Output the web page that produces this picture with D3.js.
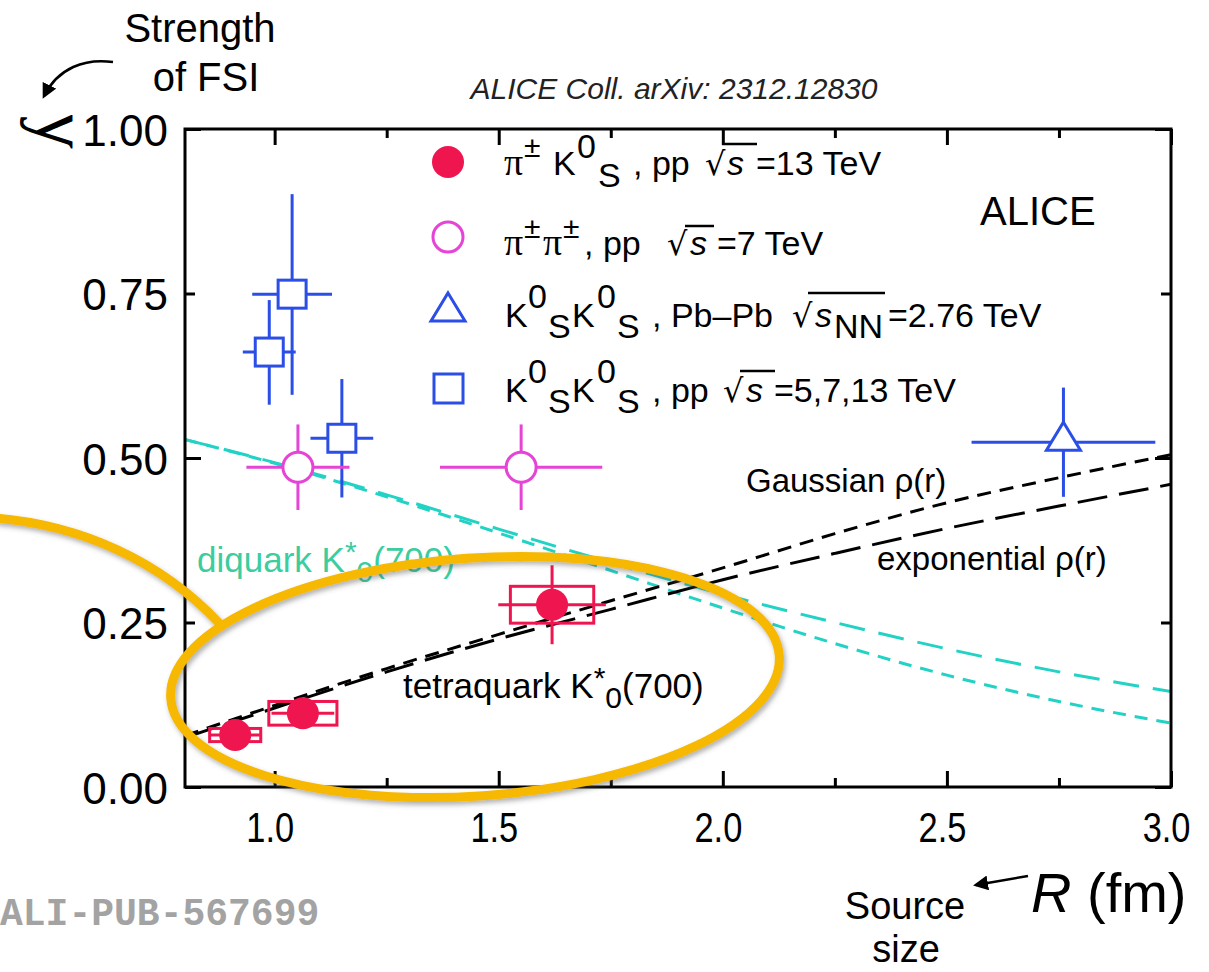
<!DOCTYPE html>
<html><head><meta charset="utf-8">
<script src="https://cdn.jsdelivr.net/npm/d3@7"></script>
<style>
body{margin:0;background:#fff}
svg{display:block;font-family:"Liberation Sans",Arial,Helvetica,sans-serif}
</style>
</head><body>
<svg id="c" width="1209" height="972"></svg>
<script>
// ---------------- data ----------------
const R_grid        = [0.8, 1.0, 1.25, 1.5, 1.75, 2.0, 2.25, 2.5, 2.75, 3.0];
const tetraGauss    = [0.078, 0.124, 0.180, 0.232, 0.283, 0.333, 0.385, 0.432, 0.470, 0.505];
const tetraExpo     = [0.075, 0.120, 0.175, 0.225, 0.270, 0.315, 0.355, 0.393, 0.427, 0.460];
const diquarkLong   = [0.528, 0.493, 0.444, 0.392, 0.341, 0.293, 0.250, 0.210, 0.175, 0.145];
const diquarkShort  = [0.528, 0.492, 0.441, 0.386, 0.329, 0.272, 0.218, 0.170, 0.130, 0.097];

const piK_R      = [0.912, 1.063, 1.619];
const piK_lambda = [0.079, 0.112, 0.277];
const piK_statR  = [0.055, 0.070, 0.120];
const piK_statL  = [0.010, 0.015, 0.060];
const piK_sysR   = [0.057, 0.076, 0.093];
const piK_sysL   = [0.010, 0.018, 0.028];

const pipi_R      = [1.052, 1.550];
const pipi_lambda = [0.486, 0.486];
const pipi_errR   = [0.115, 0.181];
const pipi_errL   = [0.065, 0.065];

const KKpp_R      = [0.988, 1.039, 1.150];
const KKpp_lambda = [0.661, 0.749, 0.530];
const KKpp_errR   = [0.059, 0.089, 0.070];
const KKpp_errLup = [0.079, 0.152, 0.090];
const KKpp_errLdn = [0.080, 0.153, 0.090];

const KKPb_R      = [2.76];
const KKPb_lambda = [0.524];
const KKPb_errR   = [0.205];
const KKPb_errL   = [0.083];

const xMajor = [1.0, 1.5, 2.0, 2.5, 3.0];
const xMinor = [1.25, 1.75, 2.25, 2.75];
const yMajor = [0, 0.5, 1.0];
const yMinor = [0.25, 0.75];
const yLabels = [0, 0.25, 0.5, 0.75, 1.0];

// ---------------- colours ----------------
const RED = "#ef1650", MAG = "#e544d6", BLUE = "#2a4ee6", TEAL = "#22d3c5", TEALTXT = "#3ccd9e", YEL = "#f6b800";

const svg = d3.select("#c");
const x = d3.scaleLinear().domain([0.8, 3.0]).range([185, 1171]);
const y = d3.scaleLinear().domain([0, 1]).range([787, 129]);
const X0 = x.range()[0], X1 = x.range()[1], Y0 = y.range()[0], Y1 = y.range()[1];

const defs = svg.append("defs");
defs.append("clipPath").attr("id","clip").append("rect")
  .attr("x",X0).attr("y",Y1).attr("width",X1-X0).attr("height",Y0-Y1);
const sh = defs.append("filter").attr("id","shadow").attr("x","-20%").attr("y","-20%").attr("width","140%").attr("height","140%");
sh.append("feDropShadow").attr("dx",2).attr("dy",3).attr("stdDeviation",2.5).attr("flood-color","#555").attr("flood-opacity",0.45);
defs.append("marker").attr("id","ah").attr("viewBox","0 0 10 10").attr("refX",8).attr("refY",5)
  .attr("markerWidth",6).attr("markerHeight",6).attr("orient","auto-start-reverse")
  .append("path").attr("d","M0,0 L10,5 L0,10 z").attr("fill","#000");

// ---------------- curves ----------------
const line = d3.line().x(d=>x(d[0])).y(d=>y(d[1])).curve(d3.curveMonotoneX);
const curves = [
  {v: diquarkLong,  c: TEAL, dash: "26,14"},
  {v: diquarkShort, c: TEAL, dash: "13,9"},
  {v: tetraExpo,    c: "#000", dash: "30,12"},
  {v: tetraGauss,   c: "#000", dash: "14,9"}
];
const cg = svg.append("g").attr("clip-path","url(#clip)");
curves.forEach(cv=>{
  cg.append("path").datum(R_grid.map((r,i)=>[r, cv.v[i]]))
    .attr("d", line).attr("fill","none").attr("stroke", cv.c)
    .attr("stroke-width",3).attr("stroke-dasharray", cv.dash);
});

// ---------------- data points ----------------
const dg = svg.append("g");
function hbar(r, l, e, col){ dg.append("line").attr("x1",x(r-e)).attr("x2",x(r+e)).attr("y1",y(l)).attr("y2",y(l)).attr("stroke",col).attr("stroke-width",3); }
function vbar(r, l, up, dn, col){ dg.append("line").attr("x1",x(r)).attr("x2",x(r)).attr("y1",y(l+up)).attr("y2",y(l-dn)).attr("stroke",col).attr("stroke-width",3); }

KKpp_R.forEach((r,i)=>{
  hbar(r, KKpp_lambda[i], KKpp_errR[i], BLUE);
  vbar(r, KKpp_lambda[i], KKpp_errLup[i], KKpp_errLdn[i], BLUE);
});
KKpp_R.forEach((r,i)=>{
  dg.append("rect").attr("x",x(r)-14).attr("y",y(KKpp_lambda[i])-14).attr("width",28).attr("height",28)
    .attr("fill","#fff").attr("stroke",BLUE).attr("stroke-width",3);
});
pipi_R.forEach((r,i)=>{
  hbar(r, pipi_lambda[i], pipi_errR[i], MAG);
  vbar(r, pipi_lambda[i], pipi_errL[i], pipi_errL[i], MAG);
  dg.append("circle").attr("cx",x(r)).attr("cy",y(pipi_lambda[i])).attr("r",15)
    .attr("fill","#fff").attr("stroke",MAG).attr("stroke-width",3);
});
const triPath = (cx,cy)=>`M${cx},${cy-17} L${cx+17},${cy+11} L${cx-17},${cy+11} Z`;
KKPb_R.forEach((r,i)=>{
  hbar(r, KKPb_lambda[i], KKPb_errR[i], BLUE);
  vbar(r, KKPb_lambda[i], KKPb_errL[i], KKPb_errL[i], BLUE);
  dg.append("path").attr("d", triPath(x(r), y(KKPb_lambda[i])-3)).attr("fill","#fff").attr("stroke",BLUE).attr("stroke-width",3);
});
piK_R.forEach((r,i)=>{
  dg.append("rect").attr("x",x(r-piK_sysR[i])).attr("y",y(piK_lambda[i]+piK_sysL[i]))
    .attr("width",x(r+piK_sysR[i])-x(r-piK_sysR[i])).attr("height",y(piK_lambda[i]-piK_sysL[i])-y(piK_lambda[i]+piK_sysL[i]))
    .attr("fill","none").attr("stroke",RED).attr("stroke-width",3);
  hbar(r, piK_lambda[i], piK_statR[i], RED);
  vbar(r, piK_lambda[i], piK_statL[i], piK_statL[i], RED);
  dg.append("circle").attr("cx",x(r)).attr("cy",y(piK_lambda[i])).attr("r",16).attr("fill",RED);
});

// ---------------- axes ----------------
function ticks(gen, tv, len, tr){
  const g = svg.append("g").attr("transform",tr).call(gen.tickValues(tv).tickSize(-len).tickFormat(""));
  g.select(".domain").remove();
  g.selectAll("line").attr("stroke","#000").attr("stroke-width",3);
}
ticks(d3.axisBottom(x), xMajor, 16, `translate(0,${Y0})`);
ticks(d3.axisBottom(x), xMinor, 9,  `translate(0,${Y0})`);
ticks(d3.axisTop(x),    xMajor, 16, `translate(0,${Y1})`);
ticks(d3.axisTop(x),    xMinor, 9,  `translate(0,${Y1})`);
ticks(d3.axisLeft(y),   yMajor, 16, `translate(${X0},0)`);
ticks(d3.axisLeft(y),   yMinor, 10, `translate(${X0},0)`);
ticks(d3.axisRight(y),  yMajor, 16, `translate(${X1},0)`);
ticks(d3.axisRight(y),  yMinor, 10, `translate(${X1},0)`);

const SANS = "Liberation Sans, Arial, sans-serif";
const xl = svg.append("g").attr("transform",`translate(0,${Y0})`)
  .call(d3.axisBottom(x).tickValues(xMajor).tickSize(0).tickFormat(d3.format(".1f")));
xl.select(".domain").remove();
xl.selectAll("text").attr("y",55).attr("dy",0).attr("x",-6)
  .attr("font-size",42).attr("fill","#000").attr("font-family",SANS)
  .attr("transform","scale(0.82,1)");

const yl = svg.append("g").attr("transform",`translate(${X0},0)`)
  .call(d3.axisLeft(y).tickValues(yLabels).tickSize(0).tickPadding(17).tickFormat(d3.format(".2f")));
yl.select(".domain").remove();
yl.selectAll("text").attr("dy","0.37em").attr("font-size",44).attr("fill","#000").attr("font-family",SANS);

svg.append("rect").attr("x",X0).attr("y",Y1).attr("width",X1-X0).attr("height",Y0-Y1)
  .attr("fill","none").attr("stroke","#000").attr("stroke-width",3);

// ---------------- legend ----------------
const lg = svg.append("g");
lg.append("circle").attr("cx",448).attr("cy",162).attr("r",16).attr("fill",RED);
lg.append("circle").attr("cx",448).attr("cy",237).attr("r",15).attr("fill","#fff").attr("stroke",MAG).attr("stroke-width",3);
lg.append("path").attr("d",triPath(448,310)).attr("fill","#fff").attr("stroke",BLUE).attr("stroke-width",3);
lg.append("rect").attr("x",434).attr("y",374).attr("width",29).attr("height",29).attr("fill","#fff").attr("stroke",BLUE).attr("stroke-width",3);

function T(xx, yy, s, opt={}){
  const t = lg.append("text").attr("x",xx).attr("y",yy).text(s).attr("font-size",opt.fs||34).attr("fill","#000");
  if(opt.ff) t.attr("font-family",opt.ff);
  if(opt.it) t.attr("font-style","italic");
  return t;
}
function OL(x1,x2,yy){ lg.append("line").attr("x1",x1).attr("x2",x2).attr("y1",yy).attr("y2",yy).attr("stroke","#000").attr("stroke-width",2.5); }
const SER = "Liberation Serif, Times New Roman, serif";
const RAD = "DejaVu Sans, sans-serif";
// row 1
T(504,175,"π",{ff:SER,fs:38}); T(524,157,"±",{fs:30}); T(553,175,"K"); T(577,158,"0"); T(598,187,"S");
T(633,175,", pp"); T(705,175,"√",{ff:RAD,fs:32}); T(727,175,"s",{it:true}); OL(722,757,144); T(756,175,"=13 TeV");
// row 2
T(504,255,"π",{ff:SER,fs:38}); T(524,238,"±",{fs:30}); T(543,255,"π",{ff:SER,fs:38}); T(563,238,"±",{fs:30});
T(584,255,", pp"); T(667,255,"√",{ff:RAD,fs:32}); T(690,255,"s",{it:true}); OL(685,714,226); T(717,255,"=7 TeV");
// row 3
T(505,327,"K"); T(528,308,"0"); T(548,338,"S"); T(572,327,"K"); T(597,308,"0"); T(617,338,"S");
T(652,327,", Pb–Pb"); T(792,327,"√",{ff:RAD,fs:32}); T(815,327,"s",{it:true}); T(834,338,"NN"); OL(808,885,293); T(888,327,"=2.76 TeV");
// row 4
T(505,402,"K"); T(528,383,"0"); T(548,413,"S"); T(572,402,"K"); T(597,383,"0"); T(617,413,"S");
T(652,402,", pp"); T(723,402,"√",{ff:RAD,fs:32}); T(746,402,"s",{it:true}); OL(740,775,371); T(774,402,"=5,7,13 TeV");

// ---------------- annotations ----------------
const an = svg.append("g");
an.append("text").attr("x",674).attr("y",99).attr("text-anchor","middle").attr("font-size",30)
  .attr("font-style","italic").attr("fill","#222").text("ALICE Coll. arXiv: 2312.12830");
an.append("text").attr("x",980).attr("y",225).attr("font-size",40).attr("fill","#000").text("ALICE");
an.append("text").attr("x",746).attr("y",492).attr("font-size",33).text("Gaussian ρ(r)");
an.append("text").attr("x",877).attr("y",570).attr("font-size",33).text("exponential ρ(r)");

const dq = an.append("text").attr("x",197).attr("y",572).attr("font-size",35).attr("fill",TEALTXT);
dq.append("tspan").text("diquark K");
dq.append("tspan").attr("dy",-10).attr("font-size",30).text("*");
dq.append("tspan").attr("dy",20).attr("font-size",30).text("0");
dq.append("tspan").attr("dy",-10).text("(700)");

const tq = an.append("text").attr("x",403).attr("y",698).attr("font-size",35).attr("fill","#000");
tq.append("tspan").text("tetraquark K");
tq.append("tspan").attr("dy",-10).attr("font-size",30).text("*");
tq.append("tspan").attr("dy",20).attr("font-size",30).text("0");
tq.append("tspan").attr("dy",-10).text("(700)");

// y label lambda + strength
an.append("text").attr("transform","matrix(0,1,1,0,72,131)").attr("text-anchor","middle")
  .attr("font-size",74).attr("font-family",SER).text("λ");
an.append("text").attr("x",200).attr("y",42).attr("text-anchor","middle").attr("font-size",40).text("Strength");
an.append("text").attr("x",206).attr("y",91).attr("text-anchor","middle").attr("font-size",40).text("of FSI");
an.append("path").attr("d","M113,62 C85,58 58,68 44,96").attr("fill","none").attr("stroke","#000").attr("stroke-width",2.5).attr("marker-end","url(#ah)");

// x label
const rt = an.append("text").attr("x",1031).attr("y",912).attr("font-size",56);
rt.append("tspan").attr("font-style","italic").text("R");
rt.append("tspan").text(" (fm)");
an.append("path").attr("d","M1028,876 L976,885").attr("fill","none").attr("stroke","#000").attr("stroke-width",2.5).attr("marker-end","url(#ah)");
an.append("text").attr("x",905).attr("y",919).attr("text-anchor","middle").attr("font-size",38).text("Source");
an.append("text").attr("x",906).attr("y",962).attr("text-anchor","middle").attr("font-size",38).text("size");

an.append("text").attr("x",0).attr("y",925).attr("font-size",38).attr("font-weight","bold")
  .attr("font-family","Liberation Mono, Courier New, monospace").attr("fill","#a3a3a3").text("ALI-PUB-567699");

// ---------------- highlight ellipse ----------------
const hl = svg.append("g").attr("filter","url(#shadow)");
hl.append("ellipse").attr("cx",475).attr("cy",677).attr("rx",305).attr("ry",119)
  .attr("transform","rotate(-4,475,677)").attr("fill","none").attr("stroke",YEL).attr("stroke-width",9);
hl.append("path").attr("d","M-5,518 C80,525 160,560 220,624").attr("fill","none").attr("stroke",YEL).attr("stroke-width",9);
</script>
</body></html>
